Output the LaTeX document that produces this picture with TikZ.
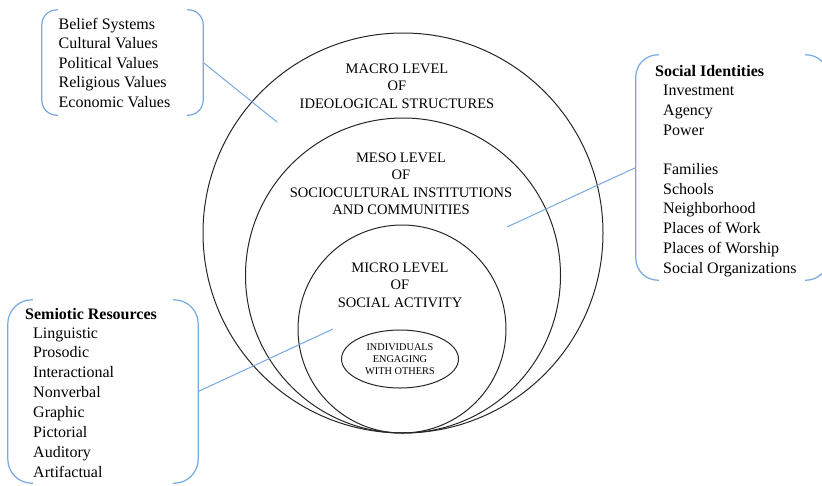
\documentclass[tikz,border=0pt]{standalone}
\usepackage{fontspec}
\setmainfont{Liberation Serif}
\usepackage{xcolor}
\usetikzlibrary{shapes.geometric,positioning}

\definecolor{linkblue}{RGB}{118,168,226}

\begin{document}
\begin{tikzpicture}[
  x=1pt, y=-1pt,
  ring/.style={draw=black!85, line width=1pt},
  level/.style={align=center, inner sep=0pt, font=\fontsize{14.5}{17.5}\selectfont},
  item/.style={anchor=base west, inner sep=0pt, font=\fontsize{16}{19.5}\selectfont},
  head/.style={item, font=\fontsize{16}{19.5}\selectfont\bfseries},
  area/.style={inner sep=0pt},
  bracket/.style={draw=linkblue, line width=1.2pt, rounded corners=#1},
  bracket/.default=15,
  link/.style={draw=linkblue, line width=1pt}
]
  \useasboundingbox (0,0) rectangle (822,485);
  \clip (0,0) rectangle (822,485);

  % nested levels, all touching at the bottom
  \node[ring, circle, minimum size=400] (macro) at (403,233) {};
  \node[ring, circle, minimum size=315] (meso) at (403,275.5) {};
  \node[ring, circle, minimum size=208] (micro) at (402,329) {};
  \node[ring, ellipse, minimum width=117, minimum height=58, align=center,
        inner sep=0pt, font=\fontsize{10.3}{12}\selectfont] (indiv) at (400,359)
        {INDIVIDUALS\\ENGAGING\\WITH OTHERS};

  \node[level] (macro-t) at (397,86) {MACRO LEVEL\\OF\\IDEOLOGICAL STRUCTURES};
  \node[level] (meso-t) at (401,184) {MESO LEVEL\\OF\\SOCIOCULTURAL INSTITUTIONS\\AND COMMUNITIES};
  \node[level] (micro-t) at (400,285) {MICRO LEVEL\\OF\\SOCIAL ACTIVITY};

  % side lists
  \node[area, minimum width=161, minimum height=105] (values) at (122.5,62.5) {};
  \foreach \t [count=\i from 0] in {Belief Systems, Cultural Values,
      Political Values, Religious Values, Economic Values}
    \node[item] (val\i) at (58.5,29+19.5*\i) {\t};

  \node[area, minimum width=192, minimum height=225] (identities) at (732,167.5) {};
  \node[head] (id0) at (655,76) {Social Identities};
  \foreach \t [count=\i from 1] in {Investment, Agency, Power, {}, Families,
      Schools, Neighborhood, Places of Work, Places of Worship, Social Organizations}
    \node[item] (id\i) at (663,76+19.7*\i) {\t};

  \node[area, minimum width=190, minimum height=183] (resources) at (103,391.5) {};
  \node[head] (res0) at (25,319) {Semiotic Resources};
  \foreach \t [count=\i from 1] in {Linguistic, Prosodic, Interactional, Nonverbal,
      Graphic, Pictorial, Auditory, Artifactual}
    \node[item] (res\i) at (33,318.2+19.85*\i) {\t};

  % brackets round the lists
  \draw[bracket=15] ([xshift=16pt]values.north west) -| (values.south west)
    -- ([xshift=16pt]values.south west);
  \draw[bracket=15] ([xshift=-16pt]values.north east) -| (values.south east)
    -- ([xshift=-16pt]values.south east);
  \draw[bracket=22] ([xshift=23pt]identities.north west) -| (identities.south west)
    -- ([xshift=23pt]identities.south west);
  \draw[bracket=22] ([xshift=-23pt]identities.north east) -| (identities.south east)
    -- ([xshift=-23pt]identities.south east);
  \draw[bracket=24] ([xshift=25pt]resources.north west) -| (resources.south west)
    -- ([xshift=25pt]resources.south west);
  \draw[bracket=24] ([xshift=-25pt]resources.north east) -| (resources.south east)
    -- ([xshift=-25pt]resources.south east);

  % pointers into the levels
  \coordinate (macro-pt) at (277,122);
  \coordinate (meso-pt) at (507,227);
  \coordinate (micro-pt) at (333,329);
  \draw[link] (values.east) -- (macro-pt);
  \draw[link] (identities.west) -- (meso-pt);
  \draw[link] (resources.east) -- (micro-pt);
\end{tikzpicture}
\end{document}
